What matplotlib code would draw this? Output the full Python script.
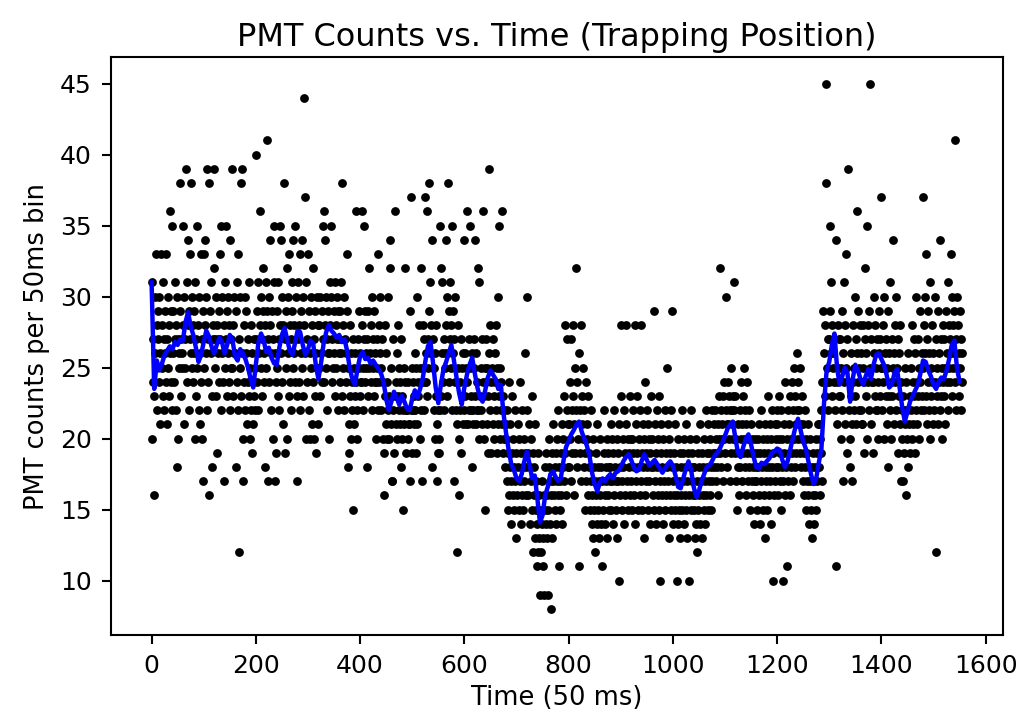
import numpy as np
import matplotlib.pyplot as plt

# PMT counts per 50 ms bin, bins 0-399
counts_a = [
    31, 20, 24, 27, 23, 16, 30, 26, 33, 25, 28, 22, 29, 27, 24, 30, 21, 26, 33, 28, 25, 23, 31, 27, 22, 26, 29, 24, 33, 21, 27, 25, 30, 23, 28, 36, 26, 24, 29, 22,
    35, 26, 29, 24, 31, 27, 22, 28, 18, 30, 20, 27, 26, 25, 38, 29, 23, 27, 25, 26, 35, 28, 21, 30, 27, 25, 39, 31, 24, 34, 28, 22, 29, 33, 27, 38, 26, 30, 25, 28,
    24, 29, 26, 31, 20, 27, 23, 35, 25, 28, 22, 30, 26, 21, 33, 24, 27, 20, 29, 17, 33, 25, 28, 34, 26, 30, 22, 39, 27, 24, 38, 16, 29, 26, 31, 23, 18, 28, 27, 32,
    39, 27, 25, 30, 23, 19, 28, 26, 27, 24, 29, 33, 27, 22, 35, 26, 30, 24, 28, 17, 31, 25, 27, 35, 23, 29, 26, 30, 24, 28, 34, 22, 27, 25, 39, 25, 28, 23, 30, 26,
    26, 18, 29, 24, 31, 33, 22, 12, 27, 25, 30, 23, 38, 26, 39, 20, 17, 28, 24, 30, 22, 26, 29, 21, 27, 24, 31, 23, 25, 20, 28, 22, 26, 19, 24, 21, 27, 23, 25, 22,
    40, 27, 24, 29, 31, 22, 26, 28, 36, 25, 30, 27, 23, 32, 29, 26, 24, 28, 18, 31, 25, 29, 41, 17, 27, 30, 24, 28, 34, 26, 22, 29, 20, 27, 31, 35, 17, 26, 24, 19,
    25, 29, 23, 31, 27, 22, 28, 35, 34, 26, 30, 24, 28, 21, 38, 27, 19, 29, 25, 32, 20, 26, 30, 23, 33, 28, 24, 27, 22, 31, 29, 25, 34, 26, 28, 24, 35, 30, 23, 17,
    27, 31, 24, 28, 22, 33, 26, 29, 34, 25, 30, 23, 28, 44, 26, 37, 20, 31, 24, 27, 33, 22, 29, 20, 26, 30, 25, 21, 28, 32, 24, 27, 20, 29, 23, 19, 26, 30, 25, 28,
    21, 25, 28, 23, 30, 26, 24, 29, 35, 27, 24, 36, 28, 34, 25, 30, 22, 27, 26, 29, 26, 20, 31, 28, 35, 30, 27, 24, 25, 29, 26, 31, 23, 28, 25, 30, 27, 22, 29, 26,
    27, 24, 29, 26, 31, 23, 38, 28, 25, 30, 22, 27, 26, 24, 29, 33, 18, 25, 21, 19, 28, 23, 26, 20, 24, 22, 27, 15, 25, 21, 23, 26, 36, 24, 20, 22, 27, 25, 29, 23,
]
# bins 400-799
counts_b = [
    26, 24, 24, 28, 36, 25, 22, 27, 35, 29, 24, 26, 25, 18, 27, 23, 29, 25, 32, 26, 24, 28, 22, 30, 27, 25, 23, 29, 26, 24, 24, 20, 27, 25, 33, 22, 28, 24, 30, 26,
    25, 22, 27, 20, 24, 19, 16, 23, 28, 21, 26, 20, 24, 22, 30, 20, 23, 34, 32, 21, 25, 17, 17, 22, 27, 19, 23, 36, 21, 24, 26, 20, 23, 28, 22, 25, 21, 24, 18, 27,
    23, 20, 15, 22, 25, 21, 24, 32, 19, 22, 22, 24, 20, 21, 21, 29, 17, 37, 22, 25, 19, 24, 22, 21, 23, 26, 22, 19, 25, 30, 21, 24, 23, 28, 20, 25, 22, 32, 24, 17,
    25, 28, 22, 27, 37, 24, 24, 26, 23, 36, 27, 25, 38, 29, 26, 31, 28, 18, 34, 27, 25, 25, 22, 26, 20, 23, 28, 21, 17, 19, 22, 19, 20, 22, 35, 23, 32, 26, 31, 24,
    27, 22, 26, 25, 34, 28, 23, 30, 26, 38, 29, 24, 27, 31, 25, 28, 22, 35, 26, 29, 17, 27, 24, 30, 22, 12, 21, 25, 28, 16, 20, 24, 22, 27, 19, 25, 23, 21, 26, 22,
    34, 23, 26, 21, 25, 36, 24, 21, 22, 27, 35, 25, 23, 22, 26, 18, 21, 22, 25, 27, 34, 23, 21, 26, 24, 22, 22, 32, 31, 20, 23, 25, 22, 27, 21, 24, 36, 23, 20, 25,
    15, 24, 27, 21, 25, 19, 23, 39, 26, 22, 28, 24, 19, 25, 21, 27, 23, 20, 26, 24, 22, 28, 25, 19, 21, 30, 35, 23, 20, 25, 24, 22, 36, 21, 19, 23, 20, 22, 18, 21,
    20, 17, 22, 15, 19, 24, 16, 18, 21, 14, 17, 19, 23, 16, 20, 15, 18, 22, 17, 13, 19, 16, 21, 18, 15, 20, 17, 24, 14, 19, 16, 22, 18, 15, 20, 17, 19, 26, 16, 18,
    22, 30, 19, 16, 21, 18, 14, 20, 17, 23, 15, 19, 12, 16, 18, 13, 21, 15, 17, 11, 14, 12, 19, 16, 13, 15, 9, 12, 14, 17, 11, 13, 16, 9, 15, 18, 14, 19, 16, 13,
    9, 15, 18, 20, 14, 17, 16, 8, 19, 13, 17, 21, 16, 18, 15, 19, 14, 17, 20, 16, 22, 11, 18, 15, 17, 19, 16, 21, 14, 18, 20, 17, 23, 19, 28, 16, 22, 27, 18, 21,
]
# bins 800-1199
counts_c = [
    21, 18, 24, 20, 27, 17, 22, 19, 28, 23, 16, 21, 25, 19, 22, 32, 18, 24, 20, 11, 26, 22, 19, 28, 17, 21, 23, 20, 25, 18, 22, 15, 19, 24, 17, 21, 20, 16, 23, 18,
    19, 15, 17, 22, 14, 16, 20, 13, 18, 15, 17, 12, 16, 19, 14, 21, 15, 18, 13, 17, 16, 20, 14, 18, 11, 17, 15, 19, 22, 16, 14, 18, 17, 13, 20, 16, 19, 15, 18, 17,
    18, 21, 15, 17, 20, 14, 19, 16, 22, 18, 17, 15, 20, 13, 19, 17, 21, 10, 18, 16, 23, 28, 17, 15, 20, 18, 22, 14, 19, 16, 28, 21, 17, 20, 15, 19, 18, 23, 16, 20,
    17, 20, 15, 19, 22, 16, 18, 28, 14, 21, 17, 19, 23, 15, 18, 20, 16, 22, 17, 28, 19, 15, 21, 18, 13, 20, 16, 24, 17, 19, 22, 18, 15, 21, 17, 20, 14, 19, 23, 18,
    20, 16, 18, 29, 15, 21, 17, 19, 14, 22, 18, 16, 20, 15, 23, 17, 10, 19, 21, 16, 18, 14, 20, 17, 22, 15, 19, 16, 25, 18, 21, 17, 13, 20, 16, 19, 22, 15, 18, 29,
    17, 14, 19, 16, 21, 15, 18, 10, 16, 20, 14, 17, 15, 19, 13, 18, 16, 22, 15, 17, 19, 14, 20, 16, 18, 15, 21, 17, 13, 19, 10, 16, 20, 18, 15, 22, 17, 19, 16, 18,
    15, 18, 13, 16, 20, 14, 17, 12, 19, 15, 16, 18, 14, 21, 17, 13, 19, 16, 18, 15, 20, 17, 14, 22, 16, 19, 18, 15, 21, 17, 19, 16, 20, 18, 15, 22, 17, 19, 21, 18,
    19, 22, 17, 20, 19, 18, 21, 16, 23, 20, 19, 32, 22, 18, 20, 21, 17, 23, 20, 24, 19, 22, 30, 18, 21, 21, 24, 20, 23, 17, 22, 25, 19, 21, 22, 20, 23, 31, 22, 19,
    23, 17, 20, 15, 18, 21, 16, 19, 22, 18, 20, 24, 17, 21, 19, 23, 20, 25, 18, 22, 16, 21, 19, 24, 20, 17, 22, 18, 15, 19, 21, 17, 20, 16, 18, 14, 19, 17, 20, 18,
    17, 19, 15, 20, 18, 16, 21, 14, 19, 17, 22, 18, 15, 20, 16, 19, 13, 21, 18, 17, 20, 15, 19, 23, 16, 18, 21, 17, 14, 20, 18, 22, 10, 19, 16, 21, 17, 20, 18, 22,
]
# bins 1200-1555
counts_d = [
    21, 18, 16, 20, 23, 17, 19, 15, 22, 18, 20, 10, 17, 21, 19, 16, 24, 18, 20, 11, 22, 17, 19, 21, 16, 23, 18, 20, 24, 19, 22, 17, 25, 20, 18, 23, 21, 19, 26, 22,
    24, 20, 22, 19, 25, 21, 18, 23, 20, 17, 21, 19, 16, 22, 18, 20, 15, 19, 17, 21, 16, 18, 14, 17, 20, 15, 18, 13, 16, 19, 17, 14, 18, 16, 20, 15, 19, 17, 21, 18,
    18, 21, 16, 20, 19, 22, 17, 24, 29, 24, 26, 23, 28, 38, 45, 25, 24, 22, 27, 27, 24, 29, 35, 26, 31, 23, 28, 26, 25, 27, 24, 22, 34, 11, 24, 21, 28, 25, 23, 27,
    23, 27, 20, 25, 29, 22, 26, 17, 31, 24, 28, 21, 25, 33, 19, 27, 39, 24, 22, 20, 18, 23, 26, 21, 17, 24, 28, 22, 25, 30, 23, 27, 21, 26, 36, 24, 29, 22, 25, 28,
    22, 26, 21, 21, 25, 28, 19, 24, 32, 27, 23, 26, 35, 20, 28, 24, 22, 29, 45, 25, 21, 27, 24, 24, 19, 26, 30, 23, 28, 22, 25, 22, 27, 24, 20, 26, 29, 23, 27, 25,
    37, 25, 22, 28, 24, 30, 20, 26, 23, 27, 21, 25, 18, 29, 23, 26, 22, 31, 24, 20, 27, 23, 25, 34, 21, 26, 28, 24, 22, 30, 25, 27, 19, 23, 26, 28, 21, 24, 17, 22,
    20, 23, 17, 22, 19, 25, 21, 16, 24, 20, 22, 18, 26, 21, 23, 19, 25, 22, 28, 20, 24, 21, 27, 23, 19, 26, 22, 30, 24, 21, 27, 23, 25, 20, 29, 24, 22, 26, 23, 37,
    25, 28, 22, 30, 26, 23, 33, 21, 27, 24, 29, 22, 26, 31, 20, 25, 23, 28, 24, 21, 26, 22, 30, 24, 12, 27, 23, 25, 21, 29, 24, 26, 22, 34, 23, 27, 25, 20, 28, 24,
    23, 27, 21, 25, 29, 24, 26, 22, 31, 25, 28, 24, 27, 33, 26, 30, 23, 28, 25, 29, 26, 41, 24, 27, 22, 30, 25, 28, 23, 26, 29, 25, 22, 27, 24, 26,
]

# running average, one value every 5 bins
trend_a = [
    31.0, 23.5, 25.5, 24.8, 25.3, 25.9, 26.2, 26.5, 26.3, 26.8, 26.6, 27.0, 26.9, 28.2, 28.9, 27.9, 27.3, 26.4, 25.4, 25.9,
    26.8, 27.6, 27.2, 26.5, 26.0, 26.6, 27.1, 26.8, 26.0, 26.6, 27.3, 27.0, 25.8, 25.5, 26.3, 26.0, 25.6, 25.0, 24.2, 23.6,
    25.2, 26.8, 27.4, 26.9, 26.1, 26.4, 25.7, 25.3, 25.2, 26.4, 27.3, 27.8, 27.0, 26.2, 25.9, 26.7, 27.6, 27.5, 26.6, 25.9,
    26.3, 26.9, 26.7, 25.2, 24.2, 25.3, 26.7, 27.5, 28.0, 27.6, 27.4, 27.1, 27.3, 26.8, 27.0, 26.2, 25.0, 24.2, 23.8, 24.9,
    25.8, 26.1, 25.6, 25.7, 25.3, 25.5, 25.2, 24.9, 24.6, 24.0, 22.8, 22.0, 22.6, 23.3, 22.9, 22.4, 23.0, 22.6, 22.1, 22.0,
    22.8, 23.4, 22.9, 23.5, 24.2, 25.4, 26.5, 26.8, 25.3, 23.6, 22.5, 23.8, 24.9, 25.4, 26.0, 26.6, 25.5, 24.3, 23.2, 22.4,
    23.6, 24.5, 25.2, 25.7, 24.6, 23.6, 22.9, 22.6, 23.4, 24.3, 24.8, 24.5, 24.2, 23.5, 23.8, 21.8, 20.4, 19.2, 18.2, 17.8,
    17.2, 17.0, 17.5, 18.4, 19.1, 18.2, 17.2, 17.4, 15.8, 14.1, 14.6, 16.0, 16.6, 17.5, 17.7, 17.3, 17.0, 17.2, 18.4, 19.4,
]
trend_b = [
    19.8, 20.3, 20.6, 21.0, 21.2, 20.5, 20.0, 19.5, 18.8, 17.6, 16.8, 16.3, 16.9, 17.2, 17.0, 17.3, 17.5, 17.2, 17.6, 17.7,
    18.0, 18.4, 18.7, 18.9, 18.5, 18.0, 17.7, 17.8, 18.4, 18.9, 18.5, 18.1, 18.3, 18.5, 18.2, 17.9, 17.6, 17.9, 18.2, 18.4,
    18.1, 17.4, 16.6, 16.5, 17.2, 17.9, 18.4, 17.8, 16.6, 15.9, 16.3, 17.0, 17.5, 18.0, 18.1, 18.4, 18.8, 19.0, 19.3, 19.7,
    20.2, 20.7, 21.0, 21.2, 20.0, 19.0, 18.7, 19.4, 20.0, 20.3, 19.6, 18.7, 18.0, 17.9, 18.3, 18.2, 18.4, 18.6, 19.0, 19.1,
    19.3, 19.2, 18.5, 18.0, 18.4, 19.2, 20.0, 20.8, 21.4, 20.6, 19.8, 19.3, 18.4, 17.5, 16.8, 17.2, 18.3, 19.3, 22.5, 24.8,
    25.4, 26.6, 27.4, 25.0, 23.8, 24.4, 25.0, 24.6, 22.6, 24.2, 25.2, 24.8, 24.2, 23.8, 24.4, 24.9, 24.2, 25.2, 25.9, 26.0,
    25.6, 25.2, 24.5, 23.6, 23.8, 24.6, 24.9, 23.6, 22.2, 21.2, 21.9, 22.6, 23.0, 23.4, 23.8, 24.6, 25.5, 25.4, 24.8, 24.4,
    23.8, 23.5, 24.0, 24.3, 24.2, 24.8, 25.6, 26.6, 26.9, 25.0, 24.0,
]

counts = np.array(counts_a + counts_b + counts_c + counts_d)
time = np.arange(len(counts))
trend = np.array(trend_a + trend_b)
trend_time = np.arange(len(trend)) * 5

fig = plt.figure(figsize=(10.19, 7.17), dpi=100)
ax = fig.add_axes([0.109, 0.114, 0.875, 0.806])

ax.scatter(time, counts, s=40, c='k', linewidths=0)
ax.plot(trend_time, trend, 'b-', lw=3.2)

ax.set_title('PMT Counts vs. Time (Trapping Position)', fontsize=23, pad=8)
ax.set_xlabel('Time (50 ms)', fontsize=18.5, labelpad=5)
ax.set_ylabel('PMT counts per 50ms bin', fontsize=18.5, labelpad=7)
ax.tick_params(labelsize=18, length=6.8, width=1.5, pad=7)
for s in ax.spines.values():
    s.set_linewidth(1.5)

plt.savefig('out.png', dpi=100)
